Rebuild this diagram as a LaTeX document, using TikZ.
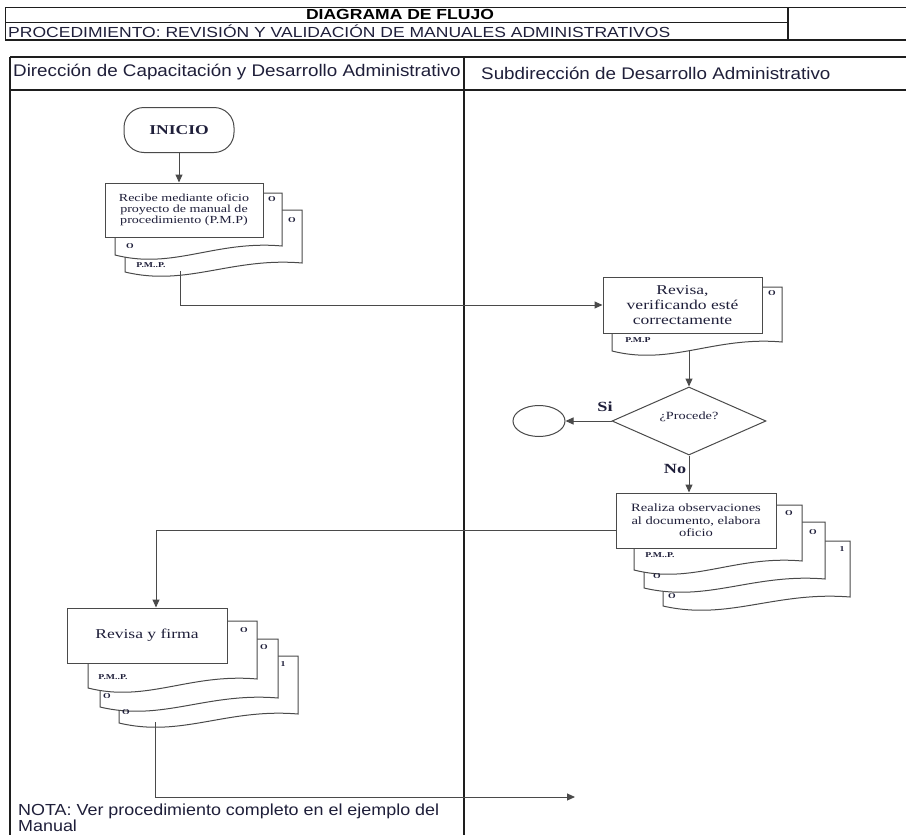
\documentclass[tikz,border=0pt]{standalone}
\usepackage{fontspec}
\setmainfont{Liberation Serif}
\newfontfamily\sfw[FakeStretch=1.12]{Liberation Sans}
\newfontfamily\hdrfont[FakeStretch=1.2]{Liberation Sans}
\newfontfamily\rmw[FakeStretch=1.3]{Liberation Serif}
\usetikzlibrary{shapes.geometric,arrows.meta,calc}
\definecolor{linegray}{HTML}{4A4A4A}
\definecolor{lanecol}{HTML}{1E1E1E}
\definecolor{txtcol}{HTML}{1F1F3A}
\tikzset{
  laneline/.style={draw=lanecol, line width=1.6pt},
  docline/.style={draw=linegray, fill=white, line width=1pt},
  box/.style={draw=linegray, fill=white, line width=1pt, inner sep=1pt, align=center, text=txtcol},
  doclabel/.style={font=\rmw\bfseries\fontsize{7.5}{8}\selectfont, inner sep=0pt, text=txtcol},
  flow/.style={draw=linegray, line width=1pt, -{Triangle[length=8pt,width=7pt]}},
  yn/.style={font=\rmw\bfseries\fontsize{14}{15}\selectfont, inner sep=0pt, text=txtcol},
}
% document shape: L T R B(left end of wavy bottom)
\newcommand\mydoc[4]{%
  \path[docline] (#1,#4) -- (#1,#2) -- (#3,#2) -- (#3,{#4-9})
    .. controls ({#3-0.4*(#3-#1)},{#4-15}) and ({#1+0.35*(#3-#1)},{#4+15}) .. (#1,#4) -- cycle;}
\begin{document}
\begin{tikzpicture}[x=1pt,y=-1pt]
\useasboundingbox (0,0) rectangle (906,835);
\fill[white] (0,0) rectangle (906,835);

% ---------- header ----------
\draw[lanecol, line width=1pt] (5,7) -- (906,7);
\draw[lanecol, line width=0.8pt] (5,22) -- (788,22);
\draw[lanecol, line width=2.2pt] (5,40) -- (906,40);
\draw[lanecol, line width=1pt] (5,7) -- (5,40);
\draw[lanecol, line width=1.6pt] (788,7) -- (788,40);
\node[font=\hdrfont\bfseries\fontsize{14.6}{15}\selectfont, inner sep=0pt] (titulo) at (400,14.5) {DIAGRAMA DE FLUJO};
\node[font=\hdrfont\fontsize{14.6}{15}\selectfont, inner sep=0pt, anchor=west, text=txtcol] (proc) at (8,31) {PROCEDIMIENTO: REVISIÓN Y VALIDACIÓN DE MANUALES ADMINISTRATIVOS};

% ---------- swimlanes ----------
\draw[laneline] (10,57) -- (906,57);
\draw[laneline] (10,90) -- (906,90);
\draw[laneline] (10,57) -- (10,835);
\draw[laneline] (464,57) -- (464,835);
\node[font=\sfw\fontsize{16.8}{18}\selectfont, inner sep=0pt, anchor=west, text=txtcol] (lane1) at (13,72) {Dirección de Capacitación y Desarrollo Administrativo};
\node[font=\sfw\fontsize{16.8}{18}\selectfont, inner sep=0pt, anchor=west, text=txtcol] (lane2) at (481,73.5) {Subdirección de Desarrollo Administrativo};

% ---------- INICIO ----------
\node[box, rounded corners=20pt, minimum width=110pt, minimum height=45pt, font=\rmw\bfseries\fontsize{13.5}{14}\selectfont] (inicio) at (179,130) {INICIO};

% ---------- Recibe stack ----------
\mydoc{125}{210}{302}{272}
\mydoc{115}{193}{282}{255}
\node[doclabel] (r2a) at (272,199) {O};
\node[doclabel] (r2b) at (130,246) {O};
\node[doclabel] (r3a) at (292,220) {O};
\node[doclabel] (r3b) at (151,265) {P.M..P.};
\node[box, minimum width=158pt, minimum height=54pt, font=\rmw\fontsize{10.8}{11}\selectfont] (recibe) at (184,210) {Recibe mediante oficio\\proyecto de manual de\\procedimiento (P.M.P)};
\coordinate (recibeout) at (180,271);

% ---------- Revisa stack ----------
\mydoc{612}{287}{782}{351}
\node[doclabel] (v2a) at (772,293) {O};
\node[doclabel] (v2b) at (638,340) {P.M.P};
\node[box, minimum width=159pt, minimum height=56pt, font=\rmw\fontsize{13.5}{15}\selectfont] (revisa) at (682.5,305) {Revisa,\\verificando esté\\correctamente};
\coordinate (revisaout) at (689,350);

% ---------- decision ----------
\node[diamond, draw=linegray, line width=1pt, fill=white, inner sep=0pt, minimum width=154pt, minimum height=68pt, text=txtcol] (procede) at (689,421) {};
\node[font=\rmw\fontsize{11}{12}\selectfont, inner sep=0pt, text=txtcol] (procedetxt) at (689,417) {¿Procede?};
\node[ellipse, draw=linegray, line width=1pt, minimum width=52pt, minimum height=31pt, inner sep=0pt] (fin) at (539,421) {};
\node[yn] (si) at (605,407) {Si};
\node[yn] (no) at (675,469) {No};

% ---------- Realiza stack ----------
\mydoc{663}{541}{850}{606}
\mydoc{644}{522}{825}{588}
\mydoc{634}{505}{802}{570}
\node[doclabel] (a2a) at (789,513) {O};
\node[doclabel] (a2b) at (660,555) {P.M..P.};
\node[doclabel] (a3a) at (813,532) {O};
\node[doclabel] (a3b) at (657,576) {O};
\node[doclabel] (a4a) at (842,549) {1};
\node[doclabel] (a4b) at (672,596) {O};
\node[box, minimum width=160pt, minimum height=55pt, font=\rmw\fontsize{11.2}{12.5}\selectfont] (realiza) at (696,520.5) {Realiza observaciones\\al documento, elabora\\oficio};

% ---------- Revisa y firma stack ----------
\mydoc{119}{656}{298}{723}
\mydoc{100}{639}{278}{707}
\mydoc{88}{621}{257}{688}
\node[doclabel] (f2a) at (244,630) {O};
\node[doclabel] (f2b) at (113,677) {P.M..P.};
\node[doclabel] (f3a) at (264,647) {O};
\node[doclabel] (f3b) at (107,696) {O};
\node[doclabel] (f4a) at (283,664) {1};
\node[doclabel] (f4b) at (126,712) {O};
\node[box, minimum width=160pt, minimum height=55pt, font=\rmw\fontsize{13.5}{15}\selectfont] (firma) at (147,635.5) {Revisa y firma};
\coordinate (firmaout) at (155,722);
\coordinate (endpt) at (575,797);

% ---------- connectors ----------
\draw[flow] (inicio.south) -- (inicio.south |- recibe.north);
\draw[flow] (recibeout) |- (revisa.west);
\draw[flow] (revisaout) -- (procede.north);
\draw[flow] (procede.west) -- (fin.east);
\draw[flow] (procede.south) -- (procede.south |- realiza.north);
\draw[flow] ([yshift=-10pt]realiza.west) -| ([xshift=9pt]firma.north);
\draw[flow] (firmaout) |- (endpt);

% ---------- note ----------
\node[font=\sfw\fontsize{16}{16}\selectfont, inner sep=0pt, anchor=north west, align=left, text=txtcol] (nota) at (18,804) {NOTA: Ver procedimiento completo en el ejemplo del\\Manual};
\end{tikzpicture}
\end{document}
